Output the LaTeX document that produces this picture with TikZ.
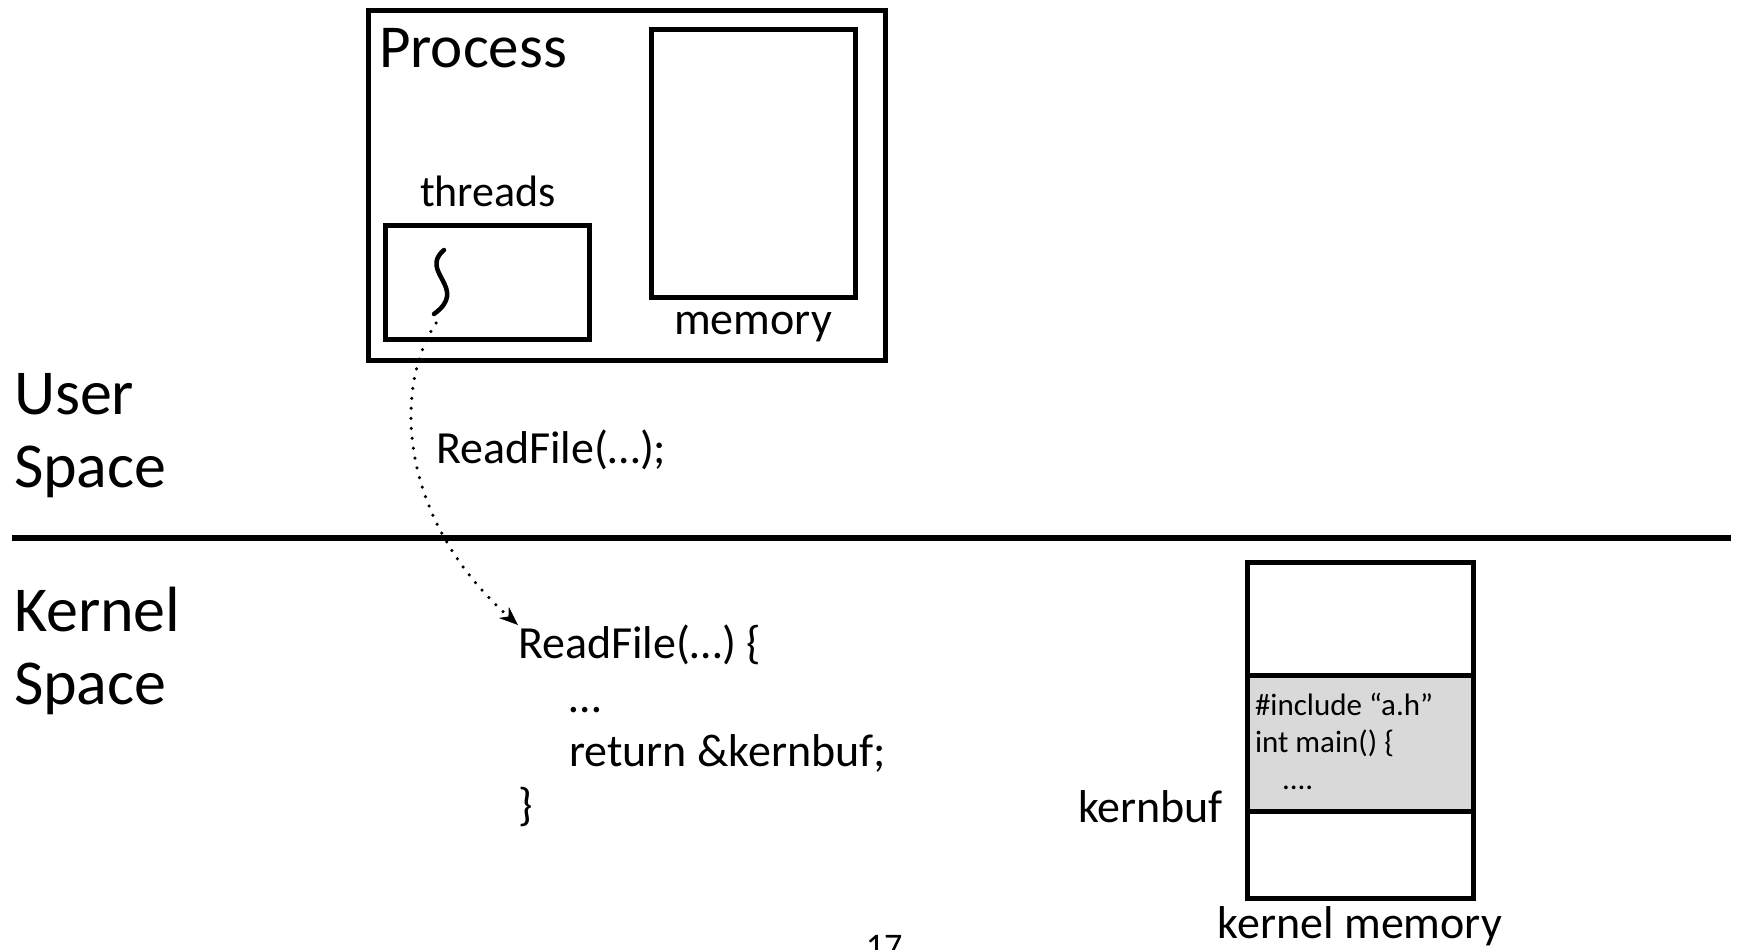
\documentclass[tikz,border=0pt]{standalone}
\usepackage{fontspec}
\setmainfont{Carlito}
\usetikzlibrary{positioning, arrows.meta}

\begin{document}
\begin{tikzpicture}[
  x = 1pt, y = -1pt,
  box/.style  = {draw, line width=5pt, inner sep=0pt, outer sep=0pt, anchor=north west},
  txt/.style  = {inner sep=0pt, outer sep=0pt},
  big/.style  = {txt, font=\fontsize{64}{73}\selectfont, align=left, anchor=north west},
  mid/.style  = {txt, font=\fontsize{46}{54}\selectfont},
  small/.style = {txt, font=\fontsize{31}{37}\selectfont, align=left, anchor=north west},
  dots/.style = {line width=3.5pt, line cap=round, dash pattern=on 0pt off 10pt,
                 -{Stealth[length=19pt, width=15pt, line width=0pt]}},
]
  \useasboundingbox (0,0) rectangle (1743,950);

  % user side
  \node[box, minimum width=517pt, minimum height=349pt] (process) at (368,11) {};
  \node[txt, font=\fontsize{61}{72}\selectfont, anchor=base west] (proclbl) at (379,68) {Process};
  \node[box, minimum width=204pt, minimum height=114pt] (thrbox) at (385,225) {};
  \node[mid, font=\fontsize{44}{52}\selectfont, anchor=base] (thrlbl) at (488,206) {threads};
  \node[box, minimum width=204pt, minimum height=267pt] (mem) at (651,30) {};
  \node[mid, below=15pt of mem] (memlbl) {memory};

  \draw[line width=4.5pt, line cap=round] (444,250) .. controls (418,272) and (470,288) .. (434,314);
  \coordinate (thrend) at (436,323);

  \node[big] (user) at (14,373) {User\\Space};
  \node[mid, anchor=base west] (ucall) at (436,463) {ReadFile(…);};

  \draw[line width=5.5pt] (12,538) -- (1731,538);

  % kernel side
  \node[big] (kernel) at (14,587) {Kernel\\Space};
  \node[mid, align=left, anchor=north west] (kread) at (518,625)
    {ReadFile(…) \{\\\hspace*{51pt}…\\\hspace*{51pt}return \&kernbuf;\\\}};

  \draw[dots] (thrend) .. controls (392,390) and (400,520) .. (kread.north west);

  \node[box, minimum width=226pt, minimum height=113pt] (ktop) at (1247,562) {};
  \node[box, fill=black!15, minimum width=226pt, minimum height=136pt] (kbuf) at (ktop.south west) {};
  \node[box, minimum width=226pt, minimum height=87pt] (kbot) at (kbuf.south west) {};
  \node[small] (bufcode) at (1255,693) {\#include ``a.h''\\int main() \{\\\hspace*{27pt}....};
  \node[mid, anchor=base east] (kbuflbl) at (1223,822) {kernbuf};
  \node[mid, below=9pt of kbot] (kmemlbl) {kernel memory};

  \node[txt, font=\fontsize{36}{40}\selectfont, anchor=base] (pnum) at (884,958) {17};
\end{tikzpicture}
\end{document}
